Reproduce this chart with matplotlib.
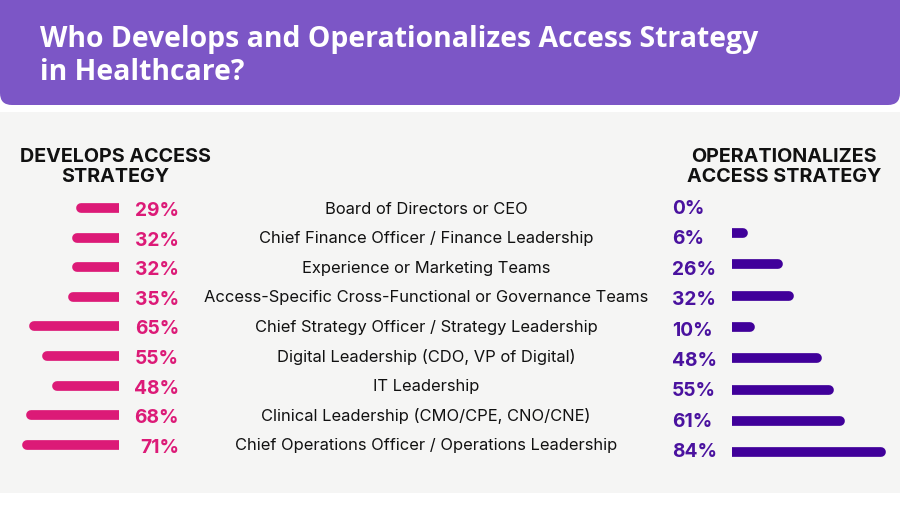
import numpy as np
import matplotlib.pyplot as plt
from matplotlib.patches import FancyBboxPatch, Rectangle

# Datos
categorias = [
    'Board of Directors or CEO',
    'Chief Finance Officer / Finance Leadership',
    'Experience or Marketing Teams',
    'Access-Specific Cross-Functional or Governance Teams',
    'Chief Strategy Officer / Strategy Leadership',
    'Digital Leadership (CDO, VP of Digital)',
    'IT Leadership',
    'Clinical Leadership (CMO/CPE, CNO/CNE)',
    'Chief Operations Officer / Operations Leadership',
]
desarrolla = [29, 32, 32, 35, 65, 55, 48, 68, 71]
operacionaliza = [0, 6, 26, 32, 10, 48, 55, 61, 84]

titulo = 'Who Develops and Operationalizes Access Strategy\nin Healthcare?'
enc_izq = 'DEVELOPS ACCESS\nSTRATEGY'
enc_der = 'OPERATIONALIZES\nACCESS STRATEGY'

rosa = '#DC1A77'
morado = '#40009A'
morado_txt = '#4A129F'
cabecera = '#7C56C6'
fondo = '#F5F5F4'

W, H = 900, 506
fig = plt.figure(figsize=(W/100, H/100), dpi=100)
fig.patch.set_facecolor('white')

def caja(x0, y0, x1, y1):
    # pixeles (desde arriba) -> fracciones de figura
    return [x0/W, 1 - y1/H, (x1-x0)/W, (y1-y0)/H]

# Capa de fondo en pixeles
bg = fig.add_axes([0, 0, 1, 1])
bg.set_xlim(0, W)
bg.set_ylim(H, 0)
bg.axis('off')
bg.add_patch(Rectangle((0, 113), W, 381, color=fondo, lw=0))
bg.add_patch(FancyBboxPatch((0, 0), W, 106, boxstyle='round,pad=0,rounding_size=12',
                            color=cabecera, lw=0))
bg.add_patch(Rectangle((0, 0), W, 20, color=cabecera, lw=0))

bg.text(40, 56, titulo, color='white', fontsize=20.4, fontweight='bold',
        family='Open Sans', va='center', ha='left', linespacing=1.2)

bg.text(115, 167, enc_izq, ha='center', va='center', fontsize=14.2, fontweight='bold',
        family='Inter', color='#111111', linespacing=1.2)
bg.text(784, 167, enc_der, ha='center', va='center', fontsize=14.2, fontweight='bold',
        family='Inter', color='#111111', linespacing=1.2)

n = len(categorias)
paso_izq = 29.6
paso_der = 30.4
for i in range(n):
    y = 209 + paso_izq*i
    bg.text(426, y, categorias[i], ha='center', va='center', fontsize=11.9,
            family='Inter', color='#111111')
    bg.text(179, y + 2, f'{desarrolla[i]}%', ha='right', va='center', fontsize=13.8,
            fontweight='bold', family='Inter', color=rosa)
    bg.text(672, 209 + paso_der*i, f'{operacionaliza[i]}%', ha='left', va='center',
            fontsize=13.8, fontweight='bold', family='Inter', color=morado_txt)

# Barras izquierda
ax1 = fig.add_axes(caja(0, 209 - paso_izq/2, 119, 209 + paso_izq*(n - 0.5)))
ax1.set_xlim(119/1.3, 0)
ax1.set_ylim(n - 0.5, -0.5)
ax1.axis('off')
filas = np.arange(n)
ax1.hlines(filas, 0, desarrolla, color=rosa, lw=7, capstyle='round')

# Barras derecha
p = 31.3
ax2 = fig.add_axes(caja(732, 202.7 - p/2, 900, 202.7 + p*(n - 0.5)))
ax2.set_xlim(0, 168/1.77)
ax2.set_ylim(n - 0.5, -0.5)
ax2.axis('off')
for i in range(n):
    if operacionaliza[i] > 0:
        ax2.hlines(i, 0, operacionaliza[i], color=morado, lw=7, capstyle='round')

plt.savefig('out.png', dpi=100, facecolor=fig.get_facecolor())
